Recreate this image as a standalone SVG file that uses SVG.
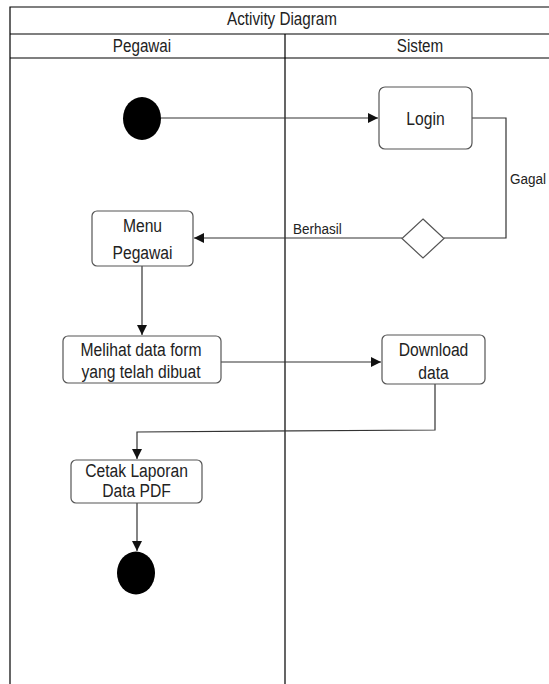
<svg xmlns="http://www.w3.org/2000/svg" width="549" height="684" viewBox="0 0 549 684">
<defs>
<style>
.frame{stroke:#000;stroke-width:1.2;fill:none}
.box{fill:#fff;stroke:#555;stroke-width:1.2}
.edge{stroke:#333;stroke-width:1.2;fill:none}
text{font-family:"Liberation Sans",Arial,sans-serif;fill:#222;text-anchor:middle}
.lbl{font-size:18px}
.hdr{font-size:17.5px}
.elbl{font-size:15.5px;text-anchor:start}
</style>
<marker id="arr" viewBox="0 0 10 10" refX="10" refY="5" markerWidth="10" markerHeight="10" markerUnits="userSpaceOnUse" orient="auto">
<path d="M0,0 L10,5 L0,10 z" fill="#111"/>
</marker>
</defs>
<rect width="549" height="684" fill="#fff"/>
<g id="frame">
<path class="frame" d="M10,684 V7 H549 M10,34 H549 M10,58 H549 M285,34 V684"/>
<text class="hdr" transform="matrix(0.87,0,0,1,282,25)">Activity Diagram</text>
<text class="hdr" transform="matrix(0.87,0,0,1,142,52)">Pegawai</text>
<text class="hdr" transform="matrix(0.87,0,0,1,420,52)">Sistem</text>
</g>
<g id="connectors">
<path class="edge" d="M161,118 H378" marker-end="url(#arr)"/>
<path class="edge" d="M472,118 H506 V238 H444"/>
<path class="edge" d="M402,238 H194" marker-end="url(#arr)"/>
<path class="edge" d="M142,266 V335" marker-end="url(#arr)"/>
<path class="edge" d="M221,362 H381" marker-end="url(#arr)"/>
<path class="edge" d="M435,384 V430 L137,432 V459" marker-end="url(#arr)"/>
<path class="edge" d="M137,503 V551" marker-end="url(#arr)"/>
<text class="elbl" transform="matrix(0.87,0,0,1,293,234)">Berhasil</text>
<text class="elbl" transform="matrix(0.87,0,0,1,510,184)">Gagal</text>
</g>
<g id="start"><ellipse cx="142" cy="118.5" rx="19" ry="21.5" fill="#000"/></g>
<g id="login"><rect class="box" x="379" y="87" width="93" height="62" rx="6"/><text class="lbl" transform="matrix(0.87,0,0,1,425.5,125)">Login</text></g>
<g id="decision"><polygon class="box" points="423,219 444,238.5 423,258 402,238.5"/></g>
<g id="menu"><rect class="box" x="92" y="211" width="101" height="55" rx="5"/><text class="lbl" transform="matrix(0.87,0,0,1,142.5,232)">Menu</text><text class="lbl" transform="matrix(0.87,0,0,1,142.5,259)">Pegawai</text></g>
<g id="melihat"><rect class="box" x="63" y="336" width="158" height="47" rx="5"/><text class="lbl" transform="matrix(0.87,0,0,1,141,356)">Melihat data form</text><text class="lbl" transform="matrix(0.87,0,0,1,141,378)">yang telah dibuat</text></g>
<g id="download"><rect class="box" x="382" y="335" width="103" height="49" rx="5"/><text class="lbl" transform="matrix(0.87,0,0,1,433.5,356)">Download</text><text class="lbl" transform="matrix(0.87,0,0,1,433.5,379)">data</text></g>
<g id="cetak"><rect class="box" x="71" y="460" width="131" height="43" rx="5"/><text class="lbl" transform="matrix(0.87,0,0,1,136.5,477)">Cetak Laporan</text><text class="lbl" transform="matrix(0.87,0,0,1,136.5,497)">Data PDF</text></g>
<g id="end"><ellipse cx="136" cy="573" rx="19" ry="21.5" fill="#000"/></g>
</svg>
